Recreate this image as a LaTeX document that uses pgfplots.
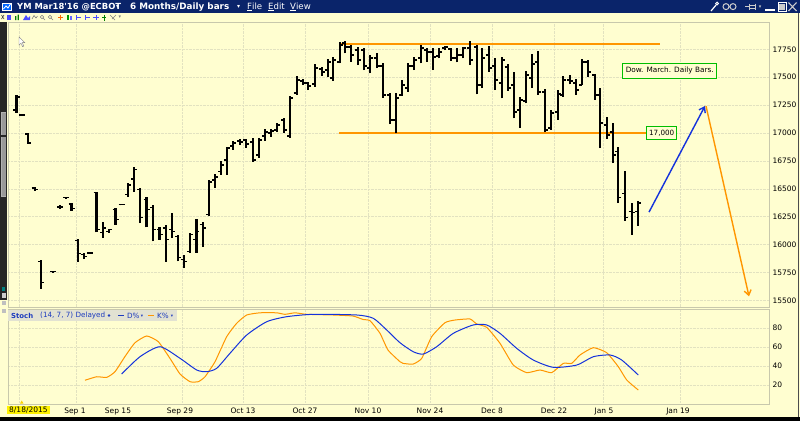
\documentclass[border=0pt]{standalone}
\usepackage{fontspec}
\setmainfont{DejaVu Sans}
\usepackage{pgfplots}
\pgfplotsset{compat=1.18}
\usepackage{pgfplotstable}
\usetikzlibrary{arrows.meta}

\definecolor{bgc}{RGB}{255,254,208}
\definecolor{navy}{RGB}{10,36,106}
\definecolor{gridc}{RGB}{226,226,192}
\definecolor{framec}{RGB}{200,200,172}
\definecolor{ora}{RGB}{255,150,0}
\definecolor{dblue}{RGB}{20,50,220}
\definecolor{boxg}{RGB}{0,190,0}
\definecolor{hdr}{RGB}{226,226,210}
\definecolor{hdrtxt}{RGB}{30,60,190}

\newcommand{\tf}{\fontsize{7.5}{9}\selectfont}

% price panel: 284.7pt for 2550.7 points
\newcommand{\ppt}{0.111616}
% high-low stroke, drawn up from the low
\pgfdeclareplotmark{hl}{\pgfpathmoveto{\pgfpointorigin}\pgfpathlineto{\pgfpoint{0pt}{\rng pt}}\pgfusepathqstroke}
% open tick to the left, close tick to the right
\pgfdeclareplotmark{openl}{\pgfpathmoveto{\pgfqpoint{-3pt}{0pt}}\pgfpathlineto{\pgfqpoint{0pt}{0pt}}\pgfusepathqstroke}
\pgfdeclareplotmark{closer}{\pgfpathmoveto{\pgfqpoint{0pt}{0pt}}\pgfpathlineto{\pgfqpoint{3pt}{0pt}}\pgfusepathqstroke}

% daily bars, x = position on the time axis
\pgfplotstableread{
x h l o c
16.5 17341 17180 17206 17323
22 17171 17153 17162 17162
28 17001 16902 16992 16911
34.7 16517 16481 16508 16491
41.3 15864 15605 15846 15658
53 15766 15748 15757 15757
60 16356 16321 16338 16338
66.3 16428 16410 16419 16419
71.5 16374 16303 16365 16321
78.2 16052 15846 16034 15918
83.7 15927 15873 15909 15891
90 15931 15918 15925 15925
96.5 16473 16110 16464 16133
103 16204 16061 16106 16150
109 16141 16106 16115 16133
115.5 16330 16177 16312 16222
121.5 16365 16352 16358 16358
128.2 16549 16425 16446 16535
134.2 16696 16473 16589 16670
140.3 16504 16193 16491 16240
146.5 16428 16155 16401 16312
153.2 16356 16030 16330 16133
159.5 16162 16043 16133 16088
165.7 16173 15846 16150 16043
172.2 16285 16061 16133 16115
177.8 16088 15849 16070 15882
183.7 15909 15790 15864 15846
190.3 16103 15924 15936 16088
196.4 16231 15927 16043 16115
202.7 16204 15980 16177 16150
209.3 16580 16252 16267 16562
215 16631 16506 16580 16607
221 16750 16625 16652 16714
227.3 16878 16625 16759 16866
233.3 16929 16848 16884 16911
240 16947 16893 16929 16920
246 16947 16869 16938 16902
253.3 16959 16744 16920 16759
259.3 16953 16780 16804 16938
265 17034 16929 16974 17010
271 17034 16968 17001 17019
277.3 17088 17013 17027 17072
284 17138 16998 17117 17027
290 17332 16959 16974 17314
296.7 17514 17341 17359 17475
302.7 17481 17430 17466 17448
308.3 17460 17385 17448 17421
315 17616 17415 17439 17582
321.7 17594 17514 17573 17547
327.7 17663 17502 17564 17636
333.3 17684 17466 17493 17654
340 17815 17624 17636 17788
345 17824 17714 17806 17770
351 17788 17639 17770 17699
357.7 17773 17609 17743 17654
364.3 17764 17564 17743 17600
370 17699 17535 17582 17672
376.7 17714 17580 17672 17600
383.3 17624 17317 17600 17341
390 17356 17079 17341 17117
395.7 17356 16998 17117 17314
402.3 17475 17334 17341 17430
408.3 17624 17370 17403 17600
414.3 17684 17564 17600 17654
421 17788 17624 17672 17761
426.7 17759 17639 17743 17726
432.7 17759 17564 17726 17681
439.3 17759 17669 17690 17726
445 17782 17743 17761 17770
451 17764 17645 17752 17672
456.7 17759 17633 17672 17699
463.3 17773 17669 17699 17761
470 17824 17609 17761 17654
476.7 17788 17347 17770 17430
482.3 17759 17401 17430 17672
488.7 17779 17549 17699 17582
495 17675 17385 17600 17475
501.7 17684 17311 17448 17654
507.7 17616 17377 17591 17403
514.3 17544 17132 17430 17189
520 17326 17048 17206 17296
526 17556 17266 17287 17520
532.3 17705 17406 17493 17618
538.3 17735 17341 17636 17368
545 17394 17007 17368 17027
551 17206 17027 17045 17180
557.7 17385 17117 17189 17350
563.3 17514 17326 17341 17475
570 17520 17436 17475 17466
575.7 17484 17341 17448 17385
582.3 17663 17430 17430 17636
588.3 17654 17505 17636 17547
595 17526 17296 17520 17341
600 17401 16864 17341 17090
606.7 17147 16947 17072 16983
612.7 17088 16729 17010 16804
618.3 16878 16372 16831 16419
625 16661 16213 16455 16240
631.7 16372 16088 16294 16285
638.3 16392 16171 16294 16374
}\ohlc

\pgfplotstableread{
x k
85 25
96.7 28.7
106.7 28
115 34
125 50
135 64.5
146.7 71.6
158.3 65.6
170 48
180 31.6
190 23.5
198.3 23.5
205 28.7
215 44.5
226.7 70.9
236.7 85
246.7 93.7
260 96
276.7 96
285 94.4
295 96
306.7 94.4
333 93.7
353 92.6
363 89
370 87.7
380 74.4
388 56.8
400 44.5
403 42.8
413 42
421.7 48
431.7 70.9
445 85.6
455 88.4
470 89.5
476.7 84.2
486.7 80.7
500 63.9
513.3 41
526.7 33
540 35.8
551.7 33
563.3 42.8
571.7 42.8
580 51.6
593.3 59.3
606.7 54
618.3 39.3
626.7 25.3
638.3 14.7
}\kline

\pgfplotstableread{
x d
121.7 31.6
140 49.8
160 60.3
180 48.1
196.7 35.8
206.7 34
216.7 37.6
230 53.4
246.7 72.6
266.7 86.6
286.7 91.9
313.3 94.4
356.7 93.7
373.3 90.2
386.7 77.9
400 64.5
413.3 55
423.3 52.6
436.7 60.3
453.3 74.4
473.3 83.2
486.7 83.2
500 74.4
516.7 58.6
533.3 46.3
553.3 38.6
576.7 41
593.3 49.8
610 51.6
621.7 46.3
638.3 30.5
}\dline

\pgfplotsset{
  panel/.style={
    anchor=north west, width=761pt, scale only axis,
    xmin=8, xmax=769,
    axis line style={draw=framec},
    major tick length=0pt,
    grid=major, grid style={gridc, densely dotted},
    yticklabel pos=right,
    ticklabel style={font=\tf, text=black},
    /pgf/number format/assume math mode=true,
    xtick={19,76,182,243,305,368,430,492,554,603,680},
    xticklabels={},
  }
}

\begin{document}
\begin{tikzpicture}
\useasboundingbox (0,0) rectangle (800pt,-421pt);
\fill[bgc] (0,0) rectangle (800pt,-421pt);

% price panel
\begin{axis}[panel, at={(8pt,-22pt)}, height=284.7pt,
  ymin=15443.6, ymax=17994.3,
  ytick={15500,15750,...,17750},
  scaled y ticks=false,
  yticklabel style={/pgf/number format/.cd, fixed, 1000 sep={}},
]
\addplot[black, only marks, mark=hl, mark options={line width=2.2pt, solid},
  visualization depends on={(\thisrow{h}-\thisrow{l})*\ppt \as \rng}]
  table[x=x, y=l] {\ohlc};
\addplot[black, only marks, mark=openl, mark options={line width=1.3pt, solid}] table[x=x, y=o] {\ohlc};
\addplot[black, only marks, mark=closer, mark options={line width=1.3pt, solid}] table[x=x, y=c] {\ohlc};

\addplot[ora, line width=2pt] coordinates {(340,17797) (660,17797)};
\addplot[ora, line width=1.6pt] coordinates {(339,17000) (647,17000)};
\addplot[dblue, line width=1.4pt, -{Straight Barb[length=5pt, width=7pt]}] coordinates {(649,16291) (705,17242)};
\addplot[ora, line width=1.4pt, -{Straight Barb[length=5pt, width=7pt]}] coordinates {(706,17242) (749,15536)};

\node[draw=boxg, line width=1pt, fill=bgc, inner sep=0pt, minimum width=30pt, minimum height=13pt,
  font=\fontsize{7.2}{8}\selectfont] at (axis cs:661.7,17000) {17,000};
\node[draw=boxg, line width=1pt, fill=bgc, inner sep=0pt, minimum width=94pt, minimum height=15pt,
  font=\fontsize{7.3}{8}\selectfont] at (axis cs:669.7,17557) {Dow. March. Daily Bars.};
\end{axis}

% stochastic panel
\begin{axis}[panel, at={(8pt,-309pt)}, height=95pt,
  ymin=0, ymax=100, ytick={20,40,60,80},
  extra x ticks={75,118,180,243,305,368,430,492,554,604,678},
  extra x tick labels={Sep 1,Sep 15,Sep 29,Oct 13,Oct 27,Nov 10,Nov 24,Dec 8,Dec 22,Jan 5,Jan 19},
  extra x tick style={grid=none},
]
\addplot[ora, line width=1pt, smooth, tension=0.3] table[x=x, y=k] {\kline};
\addplot[dblue, line width=1pt, smooth, tension=0.4] table[x=x, y=d] {\dline};
\end{axis}

\begin{scope}[x=1pt, y=-1pt]
% title bar
\fill[navy] (0,0) rectangle (800,13.3);
\fill[white] (2,2.5) rectangle (12,11);
\fill[blue!60!cyan] (3,3.5) rectangle (11,10);
\draw[white, line width=0.8pt] (3.5,9) -- (6,6) -- (8,8) -- (10.5,4);
\node[anchor=west, inner sep=0, text=white, font=\fontsize{8.4}{9}\bfseries\selectfont] at (17,6.8) {YM Mar18\textquotesingle16 @ECBOT};
\node[anchor=west, inner sep=0, text=white, font=\fontsize{6}{7}\selectfont] at (116,7) {▾};
\node[anchor=west, inner sep=0, text=white, font=\fontsize{8.8}{9}\bfseries\selectfont] at (130,6.8) {6 Months/Daily bars};
\node[anchor=west, inner sep=0, text=white, font=\fontsize{6}{7}\selectfont] at (237,7) {▾};
\node[anchor=west, inner sep=0, text=white, font=\fontsize{8.6}{9}\selectfont] at (247,6.8) {\underline{F}ile};
\node[anchor=west, inner sep=0, text=white, font=\fontsize{8.6}{9}\selectfont] at (268,6.8) {\underline{E}dit};
\node[anchor=west, inner sep=0, text=white, font=\fontsize{8.6}{9}\selectfont] at (290,6.8) {\underline{V}iew};
% window icons
\draw[white, line width=1.2pt] (711,11) -- (716,5);
\draw[white, line width=1pt] (717,3.6) circle (1.4);
\draw[gray!40, line width=1pt] (726,6.6) circle (3) (733,6.6) circle (3);
\draw[gray!40, line width=1pt] (745,6.6) -- (749,6.6) (749,3.5) -- (749,9.8) (749,5) rectangle (755,8.2) (755,3.5) -- (755,9.8);
\node[text=gray!40, inner sep=0, font=\fontsize{5}{6}\selectfont] at (760,7) {▾};
\fill[white] (765,9) rectangle (775,11.2);
\draw[white, line width=1pt] (778.5,2.5) rectangle (786,11);
\fill[gray!40] (779.2,3.5) rectangle (785.3,10.3);
\draw[gray!40, line width=1.1pt] (788.5,2.5) -- (796.5,11) (788.5,11) -- (796.5,2.5);

% toolbar glyphs
\draw[black!70, line width=0.6pt] (1.5,15) -- (4,19) (1.5,19) -- (4,15);
\fill[blue!70] (6.5,15) rectangle (11,20);
\fill[green!50!black] (15,16) rectangle (16.3,20) (17.5,14.5) rectangle (18.8,20);
\fill[blue!70] (23,20) -- (26,15) -- (28,18) -- (30,16) -- (30,20) -- cycle;
\draw[gray, line width=0.6pt] (32,19) -- (34,15.5) -- (36,18) -- (37.5,16);
\draw[gray, line width=0.6pt] (42,17) circle (1.8) (43.3,18.3) -- (45,20);
\draw[gray, line width=0.6pt] (50,17) circle (1.8) (51.3,18.3) -- (53,20);
\draw[orange!80!red, line width=0.8pt] (58,17.5) -- (63,17.5) (60.5,15) -- (60.5,20);
\fill[green!60!black] (67,15) rectangle (69,20);
\fill[blue!60] (70,16) rectangle (72,20);
\draw[blue!70, line width=0.8pt] (76,15) -- (76,20) (76,17.5) -- (81,17.5);
\draw[blue!70, line width=0.8pt] (85,15) -- (85,20) (85,17.5) -- (90,17.5);
\draw[blue!70, line width=1pt] (93,17.5) -- (99,17.5) (96,15) -- (96,20);
\draw[green!50!black, line width=0.8pt] (104,14.5) -- (104,20.5) (102,17.5) -- (106,17.5);
\draw[gray, line width=0.7pt] (110,15) -- (115,20) (112,19) -- (116,15);
\node[text=gray, inner sep=0, font=\fontsize{5}{6}\selectfont] at (120,17.5) {▾};

% left scroll strip
\fill[black!85] (0,22) rectangle (7,300);
\fill[gray!60] (0.8,112) rectangle (6.2,197);
\fill[gray!80] (1.5,113) rectangle (5.5,196);
\fill[black!85] (1,135) rectangle (6,137);
\fill[teal] (2,287) rectangle (5,291);
\fill[gray!40] (1.5,293) rectangle (5.5,298);
\fill[gray!50] (1.5,301) rectangle (5.5,305);
\fill[gray!50] (1.5,309) rectangle (5.5,313);

% right window border and bottom strip
\draw[black!70, line width=1.2pt] (798.8,13.3) -- (798.8,417);
\fill[black] (0,416.8) rectangle (800,421);

% mouse pointer
\filldraw[fill=white, draw=gray, line width=0.4pt] (19,37) -- (19,45) -- (21,43.2) -- (22.6,46.6) -- (23.8,46) -- (22.2,42.6) -- (24.8,42.6) -- cycle;

% stoch header
\fill[hdr] (8,310) rectangle (177,321);
\node[anchor=west, inner sep=0, text=hdrtxt, font=\fontsize{6.9}{8}\bfseries\selectfont] at (11,315.5) {Stoch};
\node[anchor=west, inner sep=0, text=hdrtxt, font=\fontsize{7.2}{8}\selectfont] at (40,315.5) {(14, 7, 7) Delayed};
\fill[hdrtxt] (109,315.5) circle (1.4);
\draw[hdrtxt, line width=1.2pt] (118,315.5) -- (124,315.5);
\node[anchor=west, inner sep=0, text=hdrtxt, font=\fontsize{7.2}{8}\selectfont] at (127,315.5) {D\%};
\node[text=hdrtxt, inner sep=0, font=\fontsize{4.5}{5}\selectfont] at (142,316) {▾};
\draw[ora, line width=1.2pt] (148,315.5) -- (154,315.5);
\node[anchor=west, inner sep=0, text=hdrtxt, font=\fontsize{7.2}{8}\selectfont] at (157,315.5) {K\%};
\node[text=hdrtxt, inner sep=0, font=\fontsize{4.5}{5}\selectfont] at (172,316) {▾};

% start date label
\fill[yellow!70!orange] (20,403.5) -- (23.5,403.5) -- (21.75,400.5) -- cycle;
\node[anchor=north west, fill=yellow, inner xsep=2pt, inner ysep=1pt, font=\tf] at (7,406) {8/18/2015};
\end{scope}
\end{tikzpicture}
\end{document}
